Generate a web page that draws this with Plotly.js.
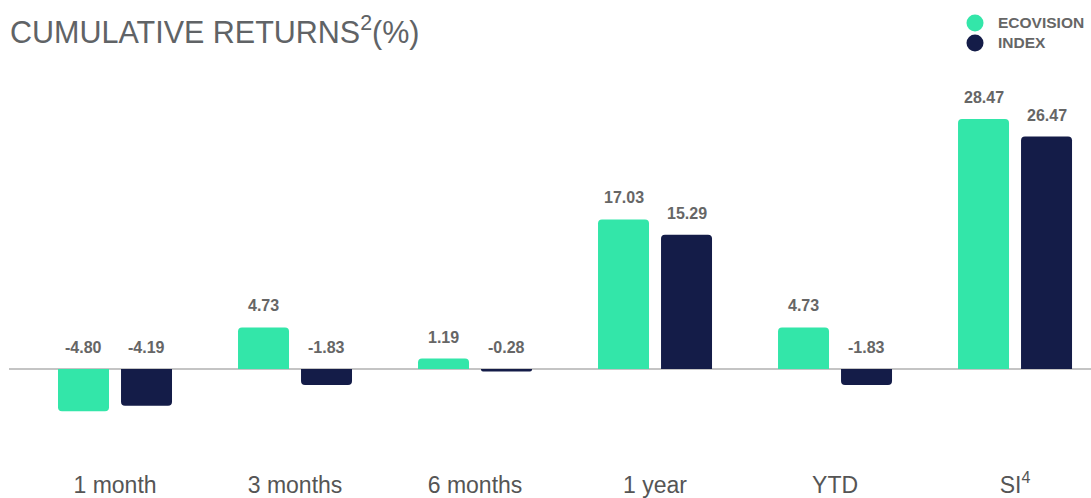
<!DOCTYPE html>
<html>
<head>
<meta charset="utf-8">
<script src="https://cdn.plot.ly/plotly-3.0.1.min.js"></script>
<style>html,body{margin:0;padding:0;background:#fff;}#chart{width:1091px;height:498px;}</style>
</head>
<body>
<div id="chart"></div>
<script>
var categories = ["1 month", "3 months", "6 months", "1 year", "YTD", "SI<sup>4</sup>"];
var ecovision = [-4.80, 4.73, 1.19, 17.03, 4.73, 28.47];
var indexVals = [-4.19, -1.83, -0.28, 15.29, -1.83, 26.47];
var seriesNames = ["ECOVISION", "INDEX"];
var seriesColors = ["#33e6a9", "#141c48"];

var pos = categories.map(function(_, i){ return i; });
var W = 0.2833;
var offsets = [-0.3167, 0.0333];
var labelShift = [-0.175, 0.175];
var seriesVals = [ecovision, indexVals];
var FONT = 'Liberation Sans, Arial, sans-serif';

var traces = [];
seriesVals.forEach(function(vals, s){
  traces.push({
    type: 'bar', x: pos, y: vals, width: W, offset: offsets[s], name: seriesNames[s],
    marker: {color: seriesColors[s], cornerradius: 4, line: {width: 0}},
    showlegend: false, hoverinfo: 'skip'
  });
});

var annotations = [];
seriesVals.forEach(function(vals, s){
  vals.forEach(function(v, i){
    annotations.push({
      x: i + labelShift[s], y: Math.max(v, 0), xref: 'x', yref: 'y',
      text: '<b>' + v.toFixed(2) + '</b>', showarrow: false,
      xanchor: 'center', yanchor: 'bottom', yshift: 11,
      font: {family: FONT, size: 16, color: '#666666'}
    });
  });
});

// custom legend (circle swatches + bold labels)
var legendY = [1.0914, 1.042];
var legendShapes = [];
seriesNames.forEach(function(n, s){
  legendShapes.push({
    type: 'circle', xref: 'paper', yref: 'paper',
    xsizemode: 'pixel', ysizemode: 'pixel',
    xanchor: 0.8928, yanchor: legendY[s],
    x0: -8.5, x1: 8.5, y0: -8.5, y1: 8.5,
    fillcolor: seriesColors[s], line: {width: 0}
  });
  annotations.push({
    xref: 'paper', yref: 'paper', x: 0.9122, y: legendY[s],
    xanchor: 'left', yanchor: 'middle', showarrow: false,
    text: '<b>' + n + '</b>',
    font: {family: FONT, size: 15.5, color: '#666666'}
  });
});

var layout = {
  width: 1091, height: 498,
  margin: {l: 9, r: 0, t: 60, b: 33},
  paper_bgcolor: '#ffffff', plot_bgcolor: '#ffffff',
  barmode: 'overlay',
  title: {
    text: 'CUMULATIVE RETURNS<sup>2</sup>(%)',
    x: 10/1091, xref: 'container', xanchor: 'left',
    y: 1 - 32/498, yref: 'container', yanchor: 'middle',
    font: {family: FONT, size: 30.5, color: '#606366'}
  },
  xaxis: {
    range: [-0.589, 5.422], tickvals: pos, ticktext: categories,
    showgrid: false, zeroline: false, showline: false, ticks: '',
    ticklabelstandoff: 4,
    tickfont: {family: FONT, size: 23, color: '#555555'},
    fixedrange: true
  },
  yaxis: {
    range: [-10.93, 35.19], showgrid: false, showticklabels: false, ticks: '',
    zeroline: true, zerolinecolor: '#c4c4c4', zerolinewidth: 2, showline: false,
    fixedrange: true
  },
  shapes: legendShapes,
  annotations: annotations,
  showlegend: false
};

Plotly.newPlot('chart', traces, layout, {displayModeBar: false, staticPlot: true});
</script>
</body>
</html>
